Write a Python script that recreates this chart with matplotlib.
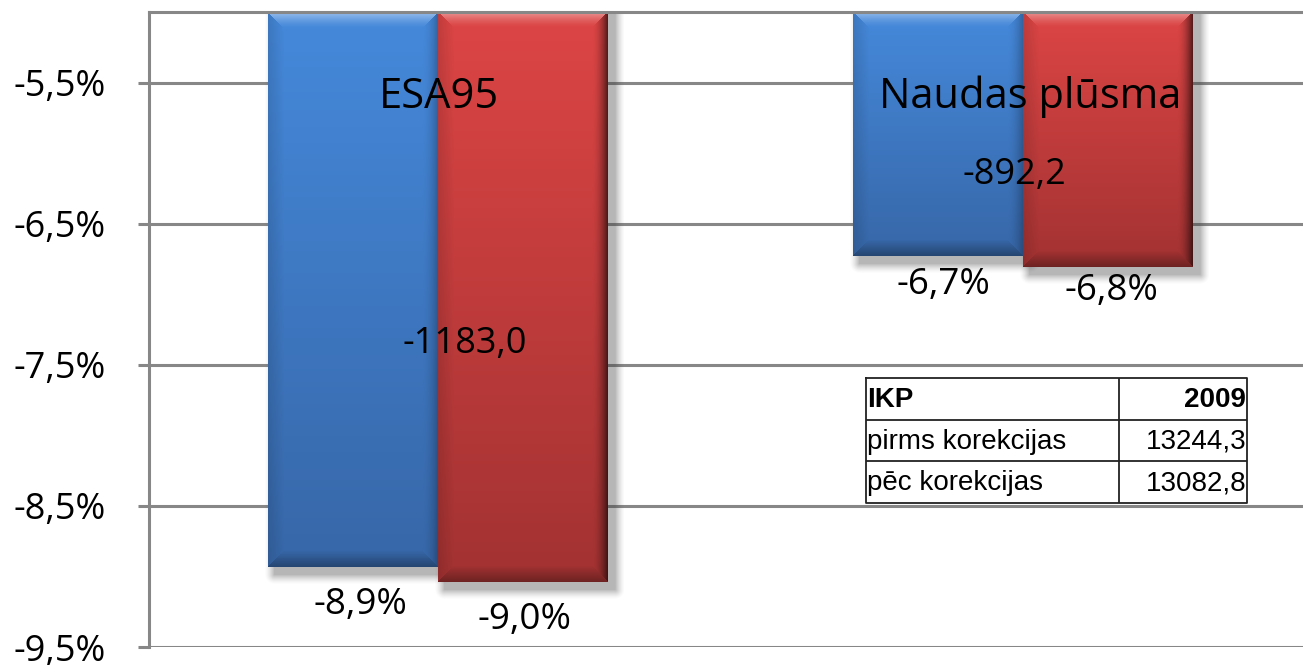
import numpy as np
import matplotlib
matplotlib.use("Agg")
import matplotlib.pyplot as plt
from matplotlib.colors import to_rgb

# Values (% of GDP)
categories = ["ESA95", "Naudas plūsma"]
before_corr = [-8.93, -6.73]   # blue bars
after_corr = [-9.04, -6.81]    # red bars
deficit_mln = [-1183.0, -892.2]

# GDP table
table_header = ["IKP", "2009"]
table_rows = [["pirms korekcijas", "13244,3"],
              ["pēc korekcijas", "13082,8"]]

y_ticks = [-5.5, -6.5, -7.5, -8.5, -9.5]
y_min, y_max = -9.5, -5.0

W, H = 1303, 665
fig = plt.figure(figsize=(W / 100, H / 100), dpi=100)
ax = fig.add_axes([149 / W, 18 / H, (W - 149) / W, 635 / H])
ax.set_xlim(-0.493, 1.479)
ax.set_ylim(y_min, y_max)

grid_col = "#878787"
lab_font = "Open Sans"

# axes frame, grid and ticks
for side in ["right", "bottom"]:
    ax.spines[side].set_visible(False)
for side in ["left", "top"]:
    ax.spines[side].set_color(grid_col)
    ax.spines[side].set_linewidth(2.2)
    ax.spines[side].set_zorder(6)
ax.set_yticks(y_ticks)
ax.set_yticklabels([f"{t:.1f}%".replace(".", ",") for t in y_ticks],
                   fontsize=26, family=lab_font)
ax.tick_params(axis="y", length=8, width=2.2, color=grid_col, pad=23)
ax.set_xticks([])
for t in y_ticks:
    ax.axhline(t, color=grid_col, lw=2.2, zorder=1)

# pixel size of one data unit
px_x = ax.transData.transform((1, 0))[0] - ax.transData.transform((0, 0))[0]
px_y = ax.transData.transform((0, 1))[1] - ax.transData.transform((0, 0))[1]


def bevel_image(wp, hp, c_top, c_bot, dark_right):
    r = np.arange(hp)[:, None] * np.ones((1, wp))
    c = np.ones((hp, 1)) * np.arange(wp)[None, :]
    d = np.stack([r, hp - 1 - r, c, wp - 1 - c])
    edge = d.argmin(0)
    dist = d.min(0)
    t = (r / max(hp - 1, 1))[..., None]
    img = np.array(c_top) * (1 - t) + np.array(c_bot) * t
    b = 16.0
    f = np.clip(1 - dist / b, 0, 1)[..., None]
    top = (edge == 0)[..., None]
    bot = (edge == 1)[..., None]
    left = (edge == 2)[..., None]
    right = (edge == 3)[..., None]
    img = np.where(top, img + (1 - img) * 0.45 * f ** 1.5, img)
    img = np.where(bot, img * (1 - 0.32 * f), img)
    img = np.where(left, img * (1 - 0.12 * f), img)
    img = np.where(right, img * (1 - dark_right * f ** 2), img)
    return np.clip(img, 0, 1)


def shadow_image(x0, x1, y0, y1, blur):
    # soft gray box with blurred edges, in pixels
    gx = np.arange(int(x1 - x0 + 2 * blur))[None, :] + x0 - blur
    gy = np.arange(int(y1 - y0 + 2 * blur))[:, None] + y0 - blur
    dx = np.maximum(0, np.maximum(x0 - gx, gx - x1))
    dy = np.maximum(0, np.maximum(y0 - gy, gy - y1))
    dd = np.sqrt(dx ** 2 + dy ** 2)
    a = 0.38 * np.clip(1 - dd / blur, 0, 1) ** 1.5
    img = np.zeros(a.shape + (4,))
    img[..., :3] = 0.25
    img[..., 3] = a
    return img


bar_w = 0.29
x = np.arange(len(categories))
series = [
    (before_corr, -bar_w / 2, ("#4589DB", "#3767A8"), 0.25),
    (after_corr, bar_w / 2, ("#DD4545", "#A33232"), 0.6),
]
blur = 10
for vals, shift, (ct, cb), dark_r in series:
    heights = [v - y_max for v in vals]
    bars = ax.bar(x + shift, heights, bottom=y_max, width=bar_w,
                  color=ct, zorder=3, linewidth=0)
    for bar in bars:
        x0, x1 = bar.get_x(), bar.get_x() + bar.get_width()
        yb, yt = bar.get_y() + bar.get_height(), bar.get_y()
        wp = int(round((x1 - x0) * px_x))
        hp = int(round((yt - yb) * px_y))
        img = bevel_image(wp, hp, to_rgb(ct), to_rgb(cb), dark_r)
        ax.imshow(img, extent=(x0, x1, yb, yt), origin="upper",
                  aspect="auto", zorder=3.5, interpolation="bilinear",
                  clip_path=bar, clip_on=True)
        # drop shadow under the bar
        sx0, sx1 = x0 * px_x + 6, x1 * px_x + 6
        sy0, sy1 = yb * px_y - 8, yt * px_y
        sh = shadow_image(0, sx1 - sx0, 0, sy1 - sy0, blur)
        ax.imshow(sh, extent=((sx0 - blur) / px_x, (sx1 + blur) / px_x,
                              (sy0 - blur) / px_y, (sy1 + blur) / px_y),
                  origin="lower", aspect="auto", zorder=2,
                  interpolation="bilinear")

ax.set_xlim(-0.493, 1.479)
ax.set_ylim(y_min, y_max)

# value labels below bar ends (offsets in pixels)
nudges = {(0, 0): (8, -34), (0, 1): (2, -33), (1, 0): (6, -24), (1, 1): (4, -19)}
for s, (vals, shift, _, _) in enumerate(series):
    for i, v in enumerate(vals):
        dx, dy = nudges[(i, s)]
        ax.annotate(f"{v:.1f}%".replace(".", ","), (x[i] + shift, v),
                    xytext=(dx, dy), textcoords="offset pixels",
                    ha="center", va="center_baseline", fontsize=26.5,
                    family=lab_font, zorder=5)

# category names and deficit amounts
ax.text(x[0] + 0.003, -5.567, categories[0], ha="center",
        va="center_baseline", fontsize=30, family=lab_font, zorder=5)
ax.text(x[1] + 0.013, -5.567, categories[1], ha="center",
        va="center_baseline", fontsize=30, family=lab_font, zorder=5)
ax.text(x[0] + 0.046, -7.32, f"{deficit_mln[0]:.1f}".replace(".", ","),
        ha="center", va="center_baseline", fontsize=26, family=lab_font, zorder=5)
ax.text(x[1] - 0.015, -6.12, f"{deficit_mln[1]:.1f}".replace(".", ","),
        ha="center", va="center_baseline", fontsize=26, family=lab_font, zorder=5)

# GDP table drawn in its own small axes (pixel units)
tw, th = 381, 125
tax = fig.add_axes([866 / W, (H - 503) / H, tw / W, th / H])
tax.set_xlim(0, tw)
tax.set_ylim(th, 0)
tax.axis("off")
tax.patch.set_alpha(0)
col_split = 253
row_h = th / 3
lc = "#222222"
tax.plot([0, tw, tw, 0, 0], [0, 0, th, th, 0], color=lc, lw=1.3, clip_on=False)
tax.plot([col_split, col_split], [0, th], color=lc, lw=1.3)
for k in (1, 2):
    tax.plot([0, tw], [k * row_h, k * row_h], color=lc, lw=1.3)
rows = [table_header] + table_rows
for k, (left_txt, right_txt) in enumerate(rows):
    yy = (k + 0.7) * row_h
    wt = "bold" if k == 0 else "normal"
    tax.text(1, yy, left_txt, ha="left", va="baseline", fontsize=20,
             family="Liberation Sans", weight=wt)
    tax.text(tw - 1, yy, right_txt, ha="right", va="baseline", fontsize=20,
             family="Liberation Sans", weight=wt)

fig.savefig("out.png", dpi=100)
